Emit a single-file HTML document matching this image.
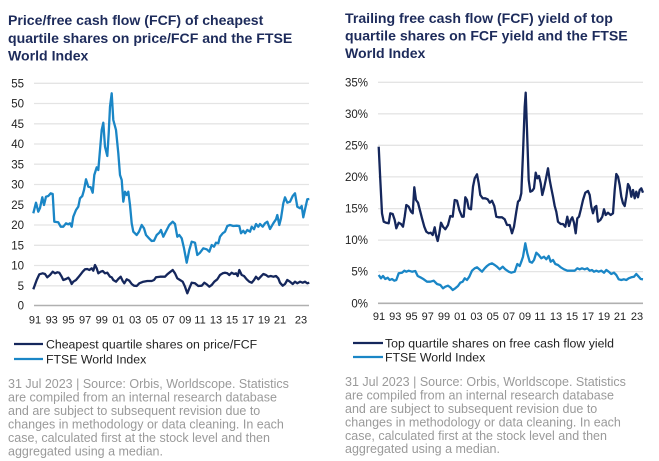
<!DOCTYPE html>
<html><head><meta charset="utf-8"><style>
html,body{margin:0;padding:0;background:#fff;}
svg{display:block;font-family:"Liberation Sans",sans-serif;}
</style></head><body>
<svg width="659" height="461" viewBox="0 0 659 461" xmlns="http://www.w3.org/2000/svg">
<!-- LEFT TITLE -->
<g fill="#1d2b5b" font-weight="bold" font-size="14.1">
<text x="8" y="25">Price/free cash flow (FCF) of cheapest</text>
<text x="8" y="43">quartile shares on price/FCF and the FTSE</text>
<text x="8" y="60.5">World Index</text>
</g>
<!-- RIGHT TITLE -->
<g fill="#1d2b5b" font-weight="bold" font-size="14.1">
<text x="345" y="23">Trailing free cash flow (FCF) yield of top</text>
<text x="345" y="40.5">quartile shares on FCF yield and the FTSE</text>
<text x="345" y="58">World Index</text>
</g>

<!-- LEFT GRID -->
<g stroke="#e4e4e4" stroke-width="1.3">
<line x1="34" x2="309" y1="83.3" y2="83.3"/>
<line x1="34" x2="309" y1="103.5" y2="103.5"/>
<line x1="34" x2="309" y1="123.8" y2="123.8"/>
<line x1="34" x2="309" y1="144" y2="144"/>
<line x1="34" x2="309" y1="164.2" y2="164.2"/>
<line x1="34" x2="309" y1="184.5" y2="184.5"/>
<line x1="34" x2="309" y1="204.8" y2="204.8"/>
<line x1="34" x2="309" y1="225" y2="225"/>
<line x1="34" x2="309" y1="245.3" y2="245.3"/>
<line x1="34" x2="309" y1="265.5" y2="265.5"/>
<line x1="34" x2="309" y1="285.8" y2="285.8"/>
</g>
<line x1="34" x2="309" y1="305.5" y2="305.5" stroke="#b0b0b0" stroke-width="1.6"/>
<g fill="#222" font-size="11.5" text-anchor="end">
<text x="24" y="87.4">55</text>
<text x="24" y="107.6">50</text>
<text x="24" y="127.9">45</text>
<text x="24" y="148.1">40</text>
<text x="24" y="168.3">35</text>
<text x="24" y="188.6">30</text>
<text x="24" y="208.9">25</text>
<text x="24" y="229.1">20</text>
<text x="24" y="249.4">15</text>
<text x="24" y="269.6">10</text>
<text x="24" y="289.9">5</text>
<text x="24" y="309.6">0</text>
</g>
<g fill="#222" font-size="11" text-anchor="middle">
<text x="35" y="323.5">91</text>
<text x="51.7" y="323.5">93</text>
<text x="68.4" y="323.5">95</text>
<text x="85.1" y="323.5">97</text>
<text x="101.8" y="323.5">99</text>
<text x="118.5" y="323.5">01</text>
<text x="135.2" y="323.5">03</text>
<text x="151.9" y="323.5">05</text>
<text x="168.6" y="323.5">07</text>
<text x="185.3" y="323.5">09</text>
<text x="200" y="323.5">11</text>
<text x="216" y="323.5">13</text>
<text x="232" y="323.5">15</text>
<text x="248" y="323.5">17</text>
<text x="264" y="323.5">19</text>
<text x="280" y="323.5">21</text>
<text x="301" y="323.5">23</text>
</g>
<!-- left series -->
<polyline fill="none" stroke="#1a86c6" stroke-width="2.3" stroke-linejoin="round" points="33.3,213.3 36,202.7 38.3,211.7 40,208 42.3,197.3 44,205 46,196.7 48.3,196 50.7,193.3 52.7,194 54.3,221.7 58.3,222.3 60.7,226.7 63.3,226.7 66,223.3 68.3,224.3 70,223.3 71.7,226.7 73.3,216.7 76,210 78.3,206.7 80,198.3 82.3,196 84,190 86,179.3 88.3,186.7 90.7,187.3 92.7,192.7 94.3,175 96.7,167.3 98.3,170 100,150 101.7,130 103.3,122.7 105,146.7 107.3,156 108.7,133.3 110,106.7 111.7,93.3 113.3,120 116,130 118.3,153.3 120,175 121.7,180 123.3,201.7 125,191.7 126.7,195 128.3,191.7 130,205 131.7,223.3 133.3,231.7 136.7,235 139,231.7 141.7,225 144,228.3 146,235 149,238.3 151.7,241 154,240.7 156.7,235 159.3,232.7 161,230 163.3,236.7 166.7,230 169.3,225 172.7,221.7 175,224 177.3,236.7 179.3,235 181.7,238.3 184,248.3 186.7,262.7 189.3,250 191.7,241.7 195,242.7 197.3,255 200,252.7 203.3,248.3 206.7,249.3 209.3,251.7 211.7,245 214,246.7 216,242.7 218.3,243.3 220,236.7 222.7,233.3 225,231.7 227.3,226 230,225 233.3,226 236.7,225.7 239.3,226 241,233.3 243.3,230.7 245,233.3 247.3,230 250,231.7 251.7,226.7 254,229.3 256,224 258.3,226.7 260,224 262.7,226.7 265,223.3 267.3,221.7 270,229 273.3,223.3 276,219.3 277.3,215 279.3,225 281,218.3 283.3,203.3 285,197.3 287.3,202.7 290,201.7 292.7,196 295,193.3 297.3,206.7 300,208.3 301.7,206 303.3,217.3 306,205 307.3,199.3 309.3,199"/>
<polyline fill="none" stroke="#15275c" stroke-width="2.3" stroke-linejoin="round" points="33.3,289.3 36.7,280 39.3,274.3 42.7,273.3 45,274 47.3,277.3 50,275 52.7,271.7 55,273.3 57.3,272.3 59.3,272.7 61.7,276.7 63.3,280 66,279 68.3,277.7 70,280 71.7,284 73.3,281.7 76,280 78.3,277.3 80.7,274.3 82.7,271.7 85,269.3 87.3,269 89.3,270 91.7,268.3 93.3,270.7 95,265 96.7,268.3 98.3,273.3 100.7,271.7 102.7,271 105,273.3 107.3,272.7 110,276.7 111.7,277.3 113.3,280 116,281.7 118.3,279 120.7,276.7 122.7,281 124.3,283.3 126.7,279.3 129.3,280.7 131.7,284 134,285.7 136.7,286 139.3,283.3 143.3,281.7 147.3,281 151.7,281 154,280 156,277.3 160,276.7 165,276.7 167.3,274.3 169.3,272.7 172.7,270 175,273.3 177.3,278.3 180,280 182.7,281.7 185,286.7 187.3,293.3 189.3,288.3 191.7,282.7 195,283.3 198.3,286 201.7,285.7 204.3,282.7 206.7,284.3 209.3,286.7 211.7,285 214.3,281.7 217.3,279.3 220,275 222.7,273.3 225,272.7 227.3,273.3 229.3,275 231.7,272.7 234,274 236,273.3 237.7,276 239.3,270 241.7,275 244,276 246.7,279.3 249.3,281.7 251.7,282.7 254,280 256,276.7 258.3,279.3 260.7,276.7 263.3,274 266,275 268.3,276.7 270.7,276 273.3,276.7 276,276 278.3,278.3 280,282.7 282.7,285.7 285,284 287.3,280 290,281.7 292.7,284 295,281.7 297.3,283.3 300,281.7 302.7,282.7 305,281.7 307.3,283.3 309.3,282.7"/>

<!-- left legend -->
<line x1="14" x2="43" y1="344" y2="344" stroke="#15275c" stroke-width="2.2"/>
<line x1="14" x2="43" y1="359" y2="359" stroke="#1a86c6" stroke-width="2.2"/>
<g fill="#222" font-size="12.3">
<text x="46" y="348.3">Cheapest quartile shares on price/FCF</text>
<text x="46" y="363.3">FTSE World Index</text>
</g>
<g fill="#9a9a9a" font-size="12.5">
<text x="8" y="387.8">31 Jul 2023 | Source: Orbis, Worldscope. Statistics</text>
<text x="8" y="401.3">are compiled from an internal research database</text>
<text x="8" y="414.8">and are subject to subsequent revision due to</text>
<text x="8" y="428.3">changes in methodology or data cleaning. In each</text>
<text x="8" y="441.8">case, calculated first at the stock level and then</text>
<text x="8" y="455.3">aggregated using a median.</text>
</g>

<!-- RIGHT GRID -->
<g stroke="#e4e4e4" stroke-width="1.3">
<line x1="378" x2="643" y1="82.3" y2="82.3"/>
<line x1="378" x2="643" y1="113.8" y2="113.8"/>
<line x1="378" x2="643" y1="145.3" y2="145.3"/>
<line x1="378" x2="643" y1="176.9" y2="176.9"/>
<line x1="378" x2="643" y1="208.6" y2="208.6"/>
<line x1="378" x2="643" y1="240.1" y2="240.1"/>
<line x1="378" x2="643" y1="271.6" y2="271.6"/>
</g>
<line x1="378" x2="643" y1="303.3" y2="303.3" stroke="#b0b0b0" stroke-width="1.6"/>
<g fill="#222" font-size="11.5" text-anchor="end">
<text x="368" y="86.4">35%</text>
<text x="368" y="117.9">30%</text>
<text x="368" y="149.4">25%</text>
<text x="368" y="181">20%</text>
<text x="368" y="212.7">15%</text>
<text x="368" y="244.2">10%</text>
<text x="368" y="275.7">5%</text>
<text x="368" y="307.4">0%</text>
</g>
<g fill="#222" font-size="11" text-anchor="middle">
<text x="379" y="320">91</text>
<text x="395.3" y="320">93</text>
<text x="411.5" y="320">95</text>
<text x="427.8" y="320">97</text>
<text x="444" y="320">99</text>
<text x="460.3" y="320">01</text>
<text x="476.5" y="320">03</text>
<text x="492.8" y="320">05</text>
<text x="509" y="320">07</text>
<text x="525" y="320">09</text>
<text x="540" y="320">11</text>
<text x="556" y="320">13</text>
<text x="572" y="320">15</text>
<text x="588" y="320">17</text>
<text x="604" y="320">19</text>
<text x="620" y="320">21</text>
<text x="637" y="320">23</text>
</g>
<polyline fill="none" stroke="#1a86c6" stroke-width="2.3" stroke-linejoin="round" points="378.7,275 381,278.3 383,276 385.3,279 387.7,277.7 389.7,280 392,279 394.3,280.7 396.3,280 398.7,273.3 402,272.7 404.3,270.7 406.3,271.7 408.7,270.7 412,271.7 415.3,271 417.7,276 420.3,277.3 423.7,279.3 427,281.7 430.3,281.7 433.7,280.7 437,284 440.3,285 443,288.3 445.3,286.7 448,285.7 450.3,287.3 452.7,290 455.3,288.3 458,286 460.3,282.7 462.7,281.7 464.7,278.3 467,280 469.3,276.7 472,270.7 474.7,268.3 477,267.3 479.3,269.3 482,271.7 484.7,268.3 487,266 489.3,264.3 492,263.3 494.7,265 497,266.7 499.7,269.3 502.7,266.7 505.3,269.3 508.7,271.7 511.3,272.7 514.7,271.7 517.3,264 519.7,266 521.3,261.7 523,256.7 525.3,243.3 527.3,253.3 529.7,261.7 532,262.7 534,260 536.3,252.7 538.7,255 541.3,258.3 544,256.7 546.3,259.3 548.7,256 550.7,261.7 553,260 555.3,264 558,265 560.7,267.3 564,269.3 567.3,270.7 571.3,270.7 574.7,270.7 577.3,268.3 579.7,269.3 582,268.3 584.7,269.3 587.3,268.3 589.7,270.7 592,270 594,271.7 596.3,270.7 598.7,271.7 601.3,270.7 604,272.7 606.3,270 608.7,271.7 611.3,274 614,272.7 616.3,275 618.7,279.3 621.3,280 624,279.3 626.3,280 628.7,278.3 631.3,277.3 634,276.7 636.3,274 638.7,276.7 640.7,279 643,279.3"/>
<polyline fill="none" stroke="#15275c" stroke-width="2.3" stroke-linejoin="round" points="378.7,146.7 380.3,180 382,213.3 383.7,221.7 386,222.7 388.7,223.3 390.3,213.3 392.7,214 394.7,220 396.3,228.3 398.7,222.7 401,224 403,226.7 404.7,216.7 406.3,205 408.7,206.7 411,211.7 412.7,213.3 414.3,187.3 416,200 418,202.7 420.3,211.7 422,218.3 424.3,226.7 426.3,231.7 428.7,233.3 430.7,232.7 432.7,235 434.7,227.3 436,235 437.7,241 439.3,233.3 441,222.7 443,226.7 445.3,229.3 448,225 450.3,216 452.7,216.7 454.7,200 457,200.7 459.3,210 462,216.7 463.7,216.7 465.3,197.3 467,200 468.7,208.3 471,209.3 473,186.7 474.7,178.3 477,174.3 478.7,183.3 480.3,195 482.7,198.3 485.3,198.3 487.7,199.3 489.7,202.7 492,200.7 494.3,206 496.3,216.7 498.7,217.3 502,217.3 504.7,219.3 507,225 509.7,225 512,233.3 514,226.7 516.3,211.7 518,201.7 519.7,200 521.3,193.3 523,153.3 524.7,106.7 525.7,92.7 527,130 528.7,180 530.3,191.7 532.3,190.7 534,188.3 535.7,172.7 537.3,178.3 539,176 540.7,183.3 542.3,195 544,188.3 545.7,180 548,168.3 549.7,180 551.3,188.3 553,196.7 554.7,206 556.3,211.7 558,221.7 560.7,224 563,224 565.3,226.7 567.3,216.7 569,226 570.7,220 572.3,217.3 574,222.7 575.7,233.3 577.3,218.3 579,216.7 580.7,210 583,200 585.3,192.7 588,191 589.7,195 591.3,206.7 593,213.3 594.7,207.3 596.3,206 598,221.7 600.3,220 602.3,216.7 604,209.3 605.7,215 608,212.7 610.7,215 613,213.3 614.7,190 616.3,174 618,176.7 619.7,185 621.3,196.7 623,203.3 624.7,206 626.3,196.7 628,184 629.7,187.3 631.3,196.7 633,190 634.7,198.3 636.3,191.7 638,197.3 639.7,190 641.3,188.3 643,192.7"/>

<!-- right legend -->
<line x1="353" x2="383" y1="343" y2="343" stroke="#15275c" stroke-width="2.2"/>
<line x1="353" x2="383" y1="357" y2="357" stroke="#1a86c6" stroke-width="2.2"/>
<g fill="#222" font-size="12.3">
<text x="385" y="347.3">Top quartile shares on free cash flow yield</text>
<text x="385" y="361.3">FTSE World Index</text>
</g>
<g fill="#9a9a9a" font-size="12.5">
<text x="345" y="386.2">31 Jul 2023 | Source: Orbis, Worldscope. Statistics</text>
<text x="345" y="399.6">are compiled from an internal research database</text>
<text x="345" y="413">and are subject to subsequent revision due to</text>
<text x="345" y="426.4">changes in methodology or data cleaning. In each</text>
<text x="345" y="439.8">case, calculated first at the stock level and then</text>
<text x="345" y="453.2">aggregated using a median.</text>
</g>
</svg>
</body></html>
